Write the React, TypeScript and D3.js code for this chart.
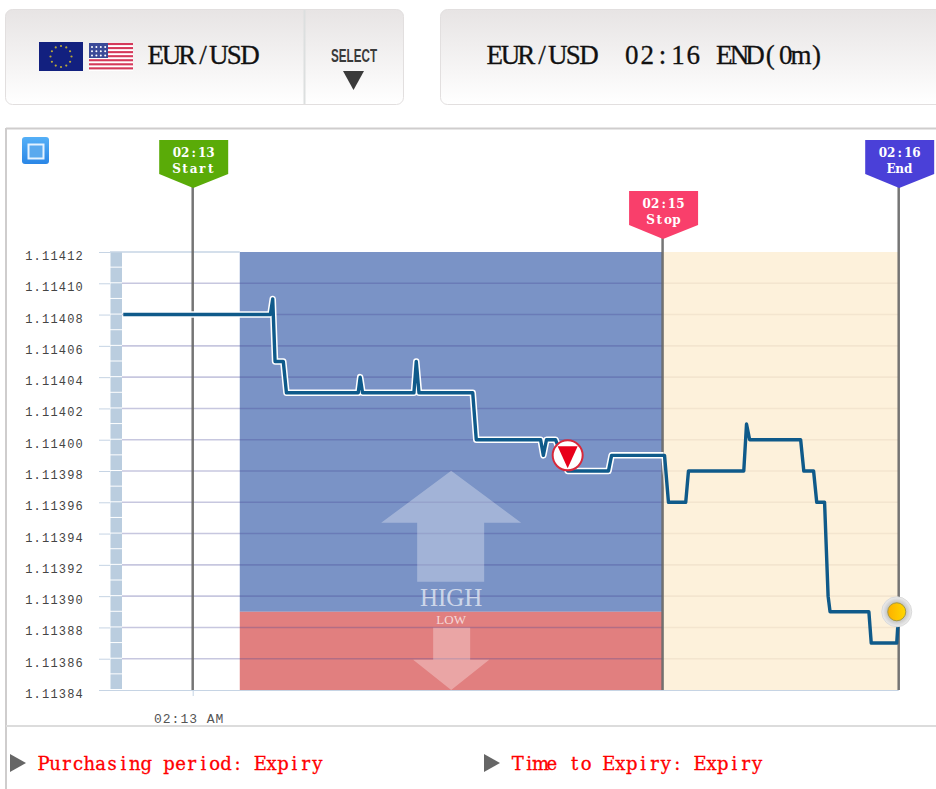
import React, { useEffect, useRef } from 'react';
import * as d3 from 'd3';

const pair = 'EUR/USD';
const expiryTitle = '02:16 END(0m)';
const yTicks = [1.11384, 1.11386, 1.11388, 1.1139, 1.11392, 1.11394, 1.11396, 1.11398, 1.114, 1.11402, 1.11404, 1.11406, 1.11408, 1.1141, 1.11412];

// seconds after 02:13:00
const priceSeconds = [-17.7, 19.8, 20.4, 21, 23.1, 23.9, 42.2, 42.7, 43.3, 56.4, 57, 57.7, 71.4, 72.3, 88.7, 89.4, 90.2, 92.5, 95.6, 106, 106.8, 120.3, 121.3, 125.7, 126.4, 140.5, 141.2, 142, 155, 155.8, 158.3, 159.1, 161.1, 162, 162.5, 172.4, 173, 179.5, 180];
const priceValues = [1.11408, 1.11408, 1.11409, 1.11405, 1.11405, 1.11403, 1.11403, 1.11404, 1.11403, 1.11403, 1.11405, 1.11403, 1.11403, 1.114, 1.114, 1.11399, 1.114, 1.114, 1.11398, 1.11398, 1.11399, 1.11399, 1.11396, 1.11396, 1.11398, 1.11398, 1.11401, 1.114, 1.114, 1.11398, 1.11398, 1.11396, 1.11396, 1.1139, 1.11389, 1.11389, 1.11387, 1.11387, 1.11389];

const flagSeconds = [0, 119.8, 180];
const flagTimes = ['02:13', '02:15', '02:16'];
const flagNames = ['Start', 'Stop', 'End'];
const flagColors = ['#5aab08', '#f93f6b', '#4a40d8'];
const flagTops = [140, 191, 140];

const openSecond = 12;
const stopSecond = 119.8;
const endSecond = 180;
const strikeValue = 1.11389;
const purchaseSecond = 95.6;
const purchaseValue = 1.11399;
const lastSecond = 179.5;
const lastValue = 1.11389;

const t0 = new Date(2020, 0, 1, 2, 13, 0).getTime();
const toDate = (s: number) => new Date(t0 + s * 1000);

const x = d3.scaleTime().domain([toDate(0), toDate(endSecond)]).range([192.7, 898.7]);
const y = d3.scaleLinear().domain([1.11384, 1.11412]).range([690, 252]);
const priceLine = d3.line<number>()
  .x((s) => x(toDate(s)))
  .y((_, i) => y(priceValues[i]));

const serif = '"Liberation Serif", serif';
const wideSerif = '"DejaVu Serif", serif';
const mono = '"Liberation Mono", monospace';

// the original uses a fixed-pitch serif: place each glyph in its own cell
let measureCtx: CanvasRenderingContext2D | null = null;
function cellX(text: string, left: number, advance: number, font: string) {
  if (!measureCtx) measureCtx = document.createElement('canvas').getContext('2d');
  measureCtx!.font = font;
  return text.split('').map((c, i) => (left + i * advance + (advance - measureCtx!.measureText(c).width) / 2).toFixed(1)).join(' ');
}

function CellText({ text, left, advance, size, baseline, fill, weight = 'normal', family = serif, heavy = 0 }: any) {
  const font = `${weight} ${size}px ${family}`;
  return (
    <text
      x={cellX(text, left, advance, font)}
      y={baseline}
      fontFamily={family}
      fontSize={size}
      fontWeight={weight}
      fill={fill}
      stroke={heavy ? fill : 'none'}
      strokeWidth={heavy}
      xmlSpace="preserve"
    >
      {text}
    </text>
  );
}

function Panel({ left, width }: { left: number; width: number }) {
  return <rect x={left} y={9.5} width={width} height={95} rx={7} fill="url(#panelFill)" stroke="#e2dfdf" />;
}

function EuFlag() {
  const stars = d3.range(12).map((i) => (i * Math.PI) / 6);
  return (
    <g>
      <rect x={39} y={42} width={44} height={29} fill="#12207f" />
      {stars.map((a, i) => (
        <circle key={i} cx={61 + Math.cos(a) * 10.5} cy={56.5 + Math.sin(a) * 10.5} r={1.1} fill="#b9a83a" />
      ))}
    </g>
  );
}

function UsFlag() {
  const stripes = d3.range(7);
  const dots = d3.cross(d3.range(4), d3.range(3));
  return (
    <g>
      <rect x={89} y={43} width={44} height={28} fill="#fff" />
      {stripes.map((i) => (
        <rect key={i} x={89} y={43 + i * 4.05} width={44} height={2.1} fill="#d5395a" />
      ))}
      <rect x={89} y={43} width={19} height={15} fill="#3b4a98" />
      {dots.map(([a, b], i) => (
        <circle key={i} cx={92 + a * 4.4} cy={47 + b * 4.2} r={1} fill="#fff" />
      ))}
    </g>
  );
}

export default function App() {
  const yAxisRef = useRef<SVGGElement>(null);
  const xAxisRef = useRef<SVGGElement>(null);

  useEffect(() => {
    const yAxis = d3.select(yAxisRef.current!)
      .call(d3.axisLeft(y).tickValues(yTicks).tickSize(11).tickPadding(15).tickFormat((d) => (d as number).toFixed(5)) as any);
    yAxis.select('.domain').remove();
    yAxis.selectAll('line').attr('stroke', '#c6d4e4');
    yAxis.selectAll('text')
      .attr('font-family', mono)
      .attr('font-size', 12)
      .attr('letter-spacing', 1.2)
      .attr('fill', '#444')
      .attr('dy', '0.62em');

    const xAxis = d3.select(xAxisRef.current!)
      .call(d3.axisBottom(x).tickValues([toDate(0)]).tickSize(6).tickPadding(18).tickFormat(d3.timeFormat('%I:%M %p') as any) as any);
    xAxis.select('.domain').remove();
    xAxis.selectAll('line').attr('stroke', '#c6d4e4');
    xAxis.selectAll('text')
      .attr('font-family', mono)
      .attr('font-size', 13)
      .attr('letter-spacing', 1)
      .attr('fill', '#555')
      .attr('dx', -4);
  }, []);

  const xOpen = x(toDate(openSecond));
  const xStop = x(toDate(stopSecond));
  const xEnd = x(toDate(endSecond));
  const yTop = y.range()[1];
  const yBottom = y.range()[0];
  const yStrike = y(strikeValue);
  const xMid = (xOpen + xStop) / 2;
  const stripCells = d3.range(1.11384, 1.11411, 0.00001).concat(1.11411);

  const px = x(toDate(purchaseSecond));
  const py = y(purchaseValue);
  const ex = x(toDate(lastSecond));
  const ey = y(lastValue);

  return (
    <svg width={936} height={789} style={{ position: 'absolute', left: 0, top: 0, display: 'block', background: '#fff' }}>
      <defs>
        <linearGradient id="panelFill" x1="0" x2="0" y1="0" y2="1">
          <stop offset="0" stopColor="#e7e4e4" />
          <stop offset="1" stopColor="#ffffff" />
        </linearGradient>
        <linearGradient id="iconFill" x1="0" x2="0" y1="0" y2="1">
          <stop offset="0" stopColor="#55b0f7" />
          <stop offset="1" stopColor="#2a86e6" />
        </linearGradient>
        <linearGradient id="coinFill" x1="0" x2="1" y1="0" y2="0">
          <stop offset="0" stopColor="#fdb000" />
          <stop offset="1" stopColor="#ffd800" />
        </linearGradient>
        <radialGradient id="ringFill">
          <stop offset="0.6" stopColor="#c4c4c4" />
          <stop offset="1" stopColor="#efefef" />
        </radialGradient>
        <clipPath id="haloClip">
          <rect x={0} y={0} width={xStop + 1} height={789} />
        </clipPath>
      </defs>

      {/* top panels */}
      <Panel left={5.5} width={398} />
      <line x1={304.5} x2={304.5} y1={10} y2={104} stroke="#dcdfdf" strokeWidth={2} />
      <EuFlag />
      <UsFlag />
      <CellText text={pair} left={148} advance={15.7} size={27} baseline={64} fill="#111" heavy={0.3} />
      <text x={331} y={62} fontFamily='"Liberation Sans", sans-serif' fontWeight="bold" fontSize={19} textLength={46} lengthAdjust="spacingAndGlyphs" fill="#3a3a3a">SELECT</text>
      <path d="M343,71H364L353.5,90Z" fill="#3a3a3a" />
      <Panel left={440.5} width={510} />
      <CellText text={pair} left={487} advance={15.7} size={27} baseline={64} fill="#111" heavy={0.3} />
      <CellText text={expiryTitle} left={624} advance={15.4} size={27} baseline={64} fill="#111" heavy={0.3} />

      {/* chart frame */}
      <line x1={6} x2={936} y1={128.5} y2={128.5} stroke="#cfcdcd" strokeWidth={2} />
      <line x1={6} x2={6} y1={128} y2={789} stroke="#cfcdcd" strokeWidth={2} />
      <line x1={6} x2={936} y1={726} y2={726} stroke="#dcdcdc" strokeWidth={2} />
      <rect x={22} y={137} width={27} height={27} rx={3} fill="url(#iconFill)" />
      <rect x={28.5} y={144.5} width={15} height={14} fill="#5aa9ee" stroke="#e4f2ff" strokeWidth={2} />

      {/* bands */}
      <rect x={xOpen} y={yTop} width={xStop - xOpen} height={yStrike - yTop} fill="#7a93c6" />
      <rect x={xOpen} y={yStrike} width={xStop - xOpen} height={yBottom - yStrike} fill="#e17f7f" />
      <rect x={xStop} y={yTop} width={xEnd - xStop} height={yBottom - yTop} fill="#fdf1db" />

      {/* left strip */}
      {stripCells.map((v) => (
        <rect key={v} x={110.5} width={11.5} y={y(v + 0.00001)} height={y(v) - y(v + 0.00001) - 1} fill="#bacddf" />
      ))}

      {/* grid */}
      {yTicks.slice(1, -1).map((v) => (
        <g key={v}>
          <line x1={122} x2={xStop} y1={y(v)} y2={y(v)} stroke="rgb(70,70,150)" strokeOpacity={0.3} strokeWidth={1.6} />
          <line x1={xStop} x2={xEnd} y1={y(v)} y2={y(v)} stroke="rgb(160,130,110)" strokeOpacity={0.1} strokeWidth={1.6} />
        </g>
      ))}
      <line x1={110} x2={xOpen} y1={yTop} y2={yTop} stroke="#c6d4e4" strokeWidth={1.5} />
      <line x1={110} x2={xEnd} y1={yBottom + 0.5} y2={yBottom + 0.5} stroke="#c6d4e4" />

      <g ref={yAxisRef} transform="translate(110,0)" />
      <g ref={xAxisRef} transform={`translate(0,${yBottom})`} />

      {/* HIGH / LOW arrows */}
      <path
        d={`M${xMid},${yStrike - 141}L${xMid + 70},${yStrike - 89}H${xMid + 33}V${yStrike - 30}H${xMid - 34}V${yStrike - 89}H${xMid - 70}Z`}
        fill="#fff"
        fillOpacity={0.3}
      />
      <text x={xMid} y={yStrike - 6} textAnchor="middle" fontFamily={serif} fontSize={25} fill="#fff" fillOpacity={0.65}>HIGH</text>
      <text x={xMid} y={yStrike + 12} textAnchor="middle" fontFamily={serif} fontSize={13} fill="#fff" fillOpacity={0.7}>LOW</text>
      <path
        d={`M${xMid - 18},${yStrike + 16}H${xMid + 19}V${yStrike + 48}H${xMid + 38}L${xMid},${yBottom}L${xMid - 38},${yStrike + 48}H${xMid - 18}Z`}
        fill="#fff"
        fillOpacity={0.3}
      />

      {/* flags */}
      {flagSeconds.map((s, i) => {
        const fx = x(toDate(s));
        const top = flagTops[i];
        return (
          <g key={s}>
            <line x1={fx} x2={fx} y1={top + 46} y2={yBottom} stroke="#666" strokeWidth={2.5} strokeOpacity={0.9} />
            <path d={`M${fx - 33.5},${top}H${fx + 35.5}V${top + 34}L${fx + 0.5},${top + 48}L${fx - 33.5},${top + 34}Z`} fill={flagColors[i]} />
            <CellText text={flagTimes[i]} left={fx + 1 - (flagTimes[i].length * 8.4) / 2} advance={8.4} size={12} baseline={top + 17} fill="#fff" weight="bold" family={wideSerif} />
            <CellText text={flagNames[i]} left={fx + 1 - (flagNames[i].length * 8.6) / 2} advance={8.6} size={12} baseline={top + 33} fill="#fff" weight="bold" family={wideSerif} />
          </g>
        );
      })}

      {/* price */}
      <path d={priceLine(priceSeconds) || ''} fill="none" stroke="#fff" strokeWidth={6.5} strokeLinejoin="round" clipPath="url(#haloClip)" />
      <path d={priceLine(priceSeconds) || ''} fill="none" stroke="#0f5a8a" strokeWidth={3.4} strokeLinejoin="round" />

      {/* purchase marker */}
      <circle cx={px} cy={py} r={15} fill="#fff" stroke="#d8283a" strokeWidth={2} />
      <path d={`M${px - 10},${py - 9}H${px + 10}L${px},${py + 13}Z`} fill="#e8001a" />

      {/* last price marker */}
      <circle cx={ex} cy={ey} r={15} fill="url(#ringFill)" stroke="#dadada" />
      <circle cx={ex} cy={ey} r={9} fill="url(#coinFill)" stroke="#a89a40" />

      {/* footer */}
      <path d="M10,754L26,763L10,772Z" fill="#666" />
      <CellText text="Purchasing period: Expiry" left={38} advance={11.4} size={18} baseline={770} fill="#ff0000" family={wideSerif} heavy={0.3} />
      <path d="M484,754L500,763L484,772Z" fill="#666" />
      <CellText text="Time to Expiry: Expiry" left={512} advance={11.4} size={18} baseline={770} fill="#ff0000" family={wideSerif} heavy={0.3} />
    </svg>
  );
}
